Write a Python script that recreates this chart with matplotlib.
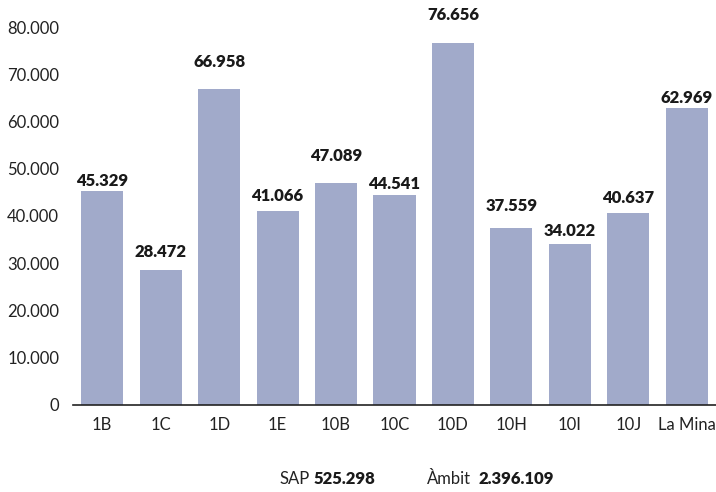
import matplotlib.pyplot as plt

plt.rcParams['font.family'] = ['Lato', 'DejaVu Sans']

# Data
categories = ["1B", "1C", "1D", "1E", "10B", "10C", "10D", "10H", "10I", "10J", "La Mina"]
values = [45329, 28472, 66958, 41066, 47089, 44541, 76656, 37559, 34022, 40637, 62969]
y_ticks = [0, 10000, 20000, 30000, 40000, 50000, 60000, 70000, 80000]
sap_total = 525298
ambit_total = 2396109

# gap (points) between bar top and its value label, as placed in the original
label_gap = [3.6, 9.4, 15.8, 7.2, 15.8, 4.3, 16.6, 12.2, 5.8, 7.2, 2.9]


def fmt(v):
    return f"{v:,}".replace(",", ".")


fig = plt.figure(figsize=(7.16, 4.92), dpi=100)
ax = fig.add_axes([0.102, 0.177, 0.898, 0.768])

x = range(len(categories))
ax.bar(x, values, width=0.72, color="#a1aaca", zorder=2)

for i, v, g in zip(x, values, label_gap):
    ax.annotate(fmt(v), (i, v), xytext=(0, g), textcoords="offset points",
                ha="center", va="baseline", fontsize=12, fontweight="heavy",
                color="#1a1a1a", annotation_clip=False)

ax.set_xlim(-0.5, len(categories) - 0.5)
ax.set_ylim(0, 80000)
ax.set_xticks(list(x))
ax.set_xticklabels(categories, fontsize=12, color="#222222")
ax.set_yticks(y_ticks)
ax.set_yticklabels([fmt(t) for t in y_ticks], fontsize=12, color="#222222")
ax.tick_params(axis="both", length=0)
ax.tick_params(axis="x", pad=9)
ax.tick_params(axis="y", pad=10)

for s in ["top", "right", "left"]:
    ax.spines[s].set_visible(False)
ax.spines["bottom"].set_color("#222222")
ax.spines["bottom"].set_linewidth(1.2)
ax.spines["bottom"].set_zorder(3)

fig.text(0.39, 0.016, "SAP", fontsize=12, color="#222222", ha="left")
fig.text(0.4385, 0.016, fmt(sap_total), fontsize=12, fontweight="heavy", color="#1a1a1a", ha="left")
fig.text(0.596, 0.016, "Àmbit", fontsize=12, color="#222222", ha="left")
fig.text(0.668, 0.016, fmt(ambit_total), fontsize=12, fontweight="heavy", color="#1a1a1a", ha="left")

fig.savefig("out.png", dpi=100)
